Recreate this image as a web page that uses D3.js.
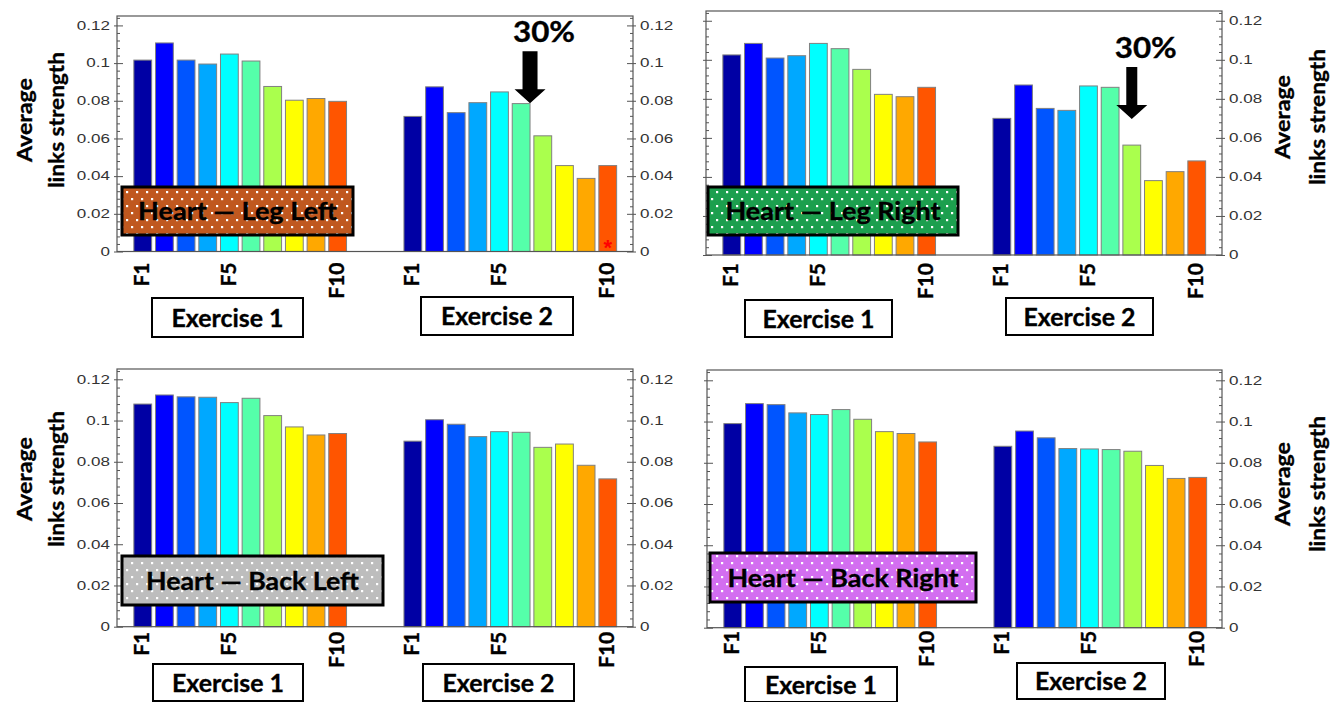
<!DOCTYPE html>
<html>
<head>
<meta charset="utf-8">
<script src="https://cdn.jsdelivr.net/npm/d3@7"></script>
<style>
  body { margin: 0; background: #fff; }
  svg { display: block; }
</style>
</head>
<body>
<svg id="chart" width="1338" height="702"></svg>
<script>
// values
const features = ['F1', 'F2', 'F3', 'F4', 'F5', 'F6', 'F7', 'F8', 'F9', 'F10'];
const shownFeatures = ['F1', 'F5', 'F10'];
const exercises = ['Exercise 1', 'Exercise 2'];
const barColors = ['#0000a4', '#0000ff', '#0055ff', '#00a8ff', '#00ffff',
                   '#55ffaa', '#aaff4d', '#ffff00', '#ffa800', '#ff5500'];
const yTicks = [0, 0.02, 0.04, 0.06, 0.08, 0.1, 0.12];
const yTickLabels = ['0', '0.02', '0.04', '0.06', '0.08', '0.1', '0.12'];

const legLeftEx1 = [0.1016, 0.1107, 0.1016, 0.0995, 0.1048, 0.1011, 0.0876, 0.0803, 0.0812, 0.0797];
const legLeftEx2 = [0.0717, 0.0874, 0.0737, 0.0790, 0.0847, 0.0785, 0.0614, 0.0456, 0.0388, 0.0456];
const legRightEx1 = [0.1025, 0.1084, 0.1009, 0.1021, 0.1084, 0.1057, 0.0951, 0.0823, 0.0811, 0.0859];
const legRightEx2 = [0.0700, 0.0871, 0.0751, 0.0741, 0.0866, 0.0859, 0.0563, 0.0381, 0.0427, 0.0482];
const backLeftEx1 = [0.1080, 0.1124, 0.1115, 0.1113, 0.1087, 0.1108, 0.1024, 0.0969, 0.0930, 0.0937];
const backLeftEx2 = [0.0900, 0.1004, 0.0982, 0.0922, 0.0946, 0.0943, 0.0870, 0.0886, 0.0783, 0.0717];
const backRightEx1 = [0.0990, 0.1087, 0.1082, 0.1042, 0.1034, 0.1058, 0.1011, 0.0951, 0.0942, 0.0901];
const backRightEx2 = [0.0880, 0.0954, 0.0921, 0.0869, 0.0867, 0.0864, 0.0856, 0.0787, 0.0724, 0.0729];

const titles = ['Heart \u2014 Leg Left', 'Heart \u2014 Leg Right', 'Heart \u2014 Back Left', 'Heart \u2014 Back Right'];
const titleFills = ['#c0581f', '#1c9f4e', '#bdbdbd', '#d36ef0'];
const yLabelLines = ['Average', 'links strength'];

// layout of the four panels (pixels)
const panels = [
  { ex1: legLeftEx1, ex2: legLeftEx2, left: 117, right: 633, top: 16, bottom: 251.5,
    leftLabels: true, yLabelX: [32, 64], yLabelY: 120, tickGap: 11,
    box: [122, 187, 231, 48], textLen: 199,
    exBoxes: [[152, 298, 151, 39], [421, 297, 152, 38]],
    arrow: { bar: 5, edge: 1, value: 0.0787, shaftW: 15 }, star: true },
  { ex1: legRightEx1, ex2: legRightEx2, left: 706, right: 1222, top: 11, bottom: 255,
    leftLabels: false, yLabelX: [1290, 1325], yLabelY: 117, tickGap: 8,
    box: [708, 187, 250, 48], textLen: 215,
    exBoxes: [[745, 300, 147, 37], [1006, 298, 147, 37]],
    arrow: { bar: 6, edge: 0.5, value: 0.0697, shaftW: 11 } },
  { ex1: backLeftEx1, ex2: backLeftEx2, left: 117, right: 633, top: 369, bottom: 626.7,
    leftLabels: true, yLabelX: [32, 64], yLabelY: 479, tickGap: 5,
    box: [122, 556, 261, 49], textLen: 213,
    exBoxes: [[153, 664, 150, 37], [423, 664, 151, 37]] },
  { ex1: backRightEx1, ex2: backRightEx2, left: 707, right: 1222, top: 370, bottom: 627.7,
    leftLabels: false, yLabelX: [1290, 1325], yLabelY: 484, tickGap: 3,
    box: [710, 553, 266, 49], textLen: 231,
    exBoxes: [[745, 667, 152, 35], [1017, 663, 148, 36]] }
];

const boldFont = 'Lato, "Open Sans", sans-serif';
const tickFont = '"Liberation Sans", Arial, sans-serif';

const svg = d3.select('#chart');
const defs = svg.append('defs');

titleFills.forEach((c, i) => {
  const p = defs.append('pattern')
    .attr('id', 'dots' + i)
    .attr('patternUnits', 'userSpaceOnUse')
    .attr('width', 10).attr('height', 14);
  p.append('rect').attr('width', 10).attr('height', 14).attr('fill', c);
  p.append('rect').attr('x', 1).attr('y', 2).attr('width', 2.2).attr('height', 2.2).attr('fill', '#fff');
  p.append('rect').attr('x', 6).attr('y', 9).attr('width', 2.2).attr('height', 2.2).attr('fill', '#fff');
});

const minorTicks = d3.range(0, 0.1245, 0.004).filter(v => Math.abs(v / 0.02 - Math.round(v / 0.02)) > 0.01);

function styleTickText(sel, dx) {
  sel.selectAll('text')
    .attr('x', dx)
    .attr('transform', 'scale(1.42,1)')
    .attr('font-family', tickFont)
    .attr('font-size', 12)
    .attr('fill', '#333');
}

// heavier look, closer to the original's bold face
function boldText(sel, size) {
  return sel
    .attr('font-family', boldFont)
    .attr('font-weight', 'bold')
    .attr('font-size', size)
    .attr('fill', '#000')
    .attr('stroke', '#000')
    .attr('stroke-width', 0.35);
}

panels.forEach((p, pi) => {
  const g = svg.append('g');
  const y = d3.scaleLinear().domain([0, 0.125]).range([p.bottom, p.top]);
  const outer = d3.scaleBand().domain(exercises)
    .range([p.left + 13, p.left + 503.5])
    .paddingInner(0.184).paddingOuter(0);
  const inner = d3.scaleBand().domain(features)
    .range([0, outer.bandwidth()])
    .padding(0.178);

  // bars
  [p.ex1, p.ex2].forEach((vals, ei) => {
    const gg = g.append('g').attr('transform', `translate(${outer(exercises[ei])},0)`);
    gg.selectAll('rect')
      .data(vals)
      .join('rect')
      .attr('x', (d, i) => inner(features[i]))
      .attr('y', d => y(d))
      .attr('width', inner.bandwidth())
      .attr('height', d => y(0) - y(d))
      .attr('fill', (d, i) => barColors[i])
      .attr('stroke', '#808080')
      .attr('stroke-width', 1);

    // x tick labels
    const xa = gg.append('g')
      .attr('transform', `translate(0,${y(0) + p.tickGap})`)
      .call(d3.axisBottom(inner).tickValues(shownFeatures).tickSize(0).tickPadding(0));
    xa.select('.domain').remove();
    boldText(xa.selectAll('text')
      .attr('transform', 'rotate(-90)')
      .attr('x', 0).attr('y', 0).attr('dy', '0.3em')
      .attr('text-anchor', 'end'), 21);
  });

  // frame
  g.append('rect')
    .attr('x', p.left).attr('y', p.top)
    .attr('width', p.right - p.left).attr('height', y(0) - p.top)
    .attr('fill', 'none').attr('stroke', '#555').attr('stroke-width', 1.2);

  // left axis
  const la = g.append('g').attr('transform', `translate(${p.left},0)`)
    .call(d3.axisLeft(y).tickValues(yTicks).tickSize(3)
      .tickFormat((d, i) => p.leftLabels ? yTickLabels[i] : ''));
  la.select('.domain').remove();
  la.selectAll('line').attr('x1', -3).attr('x2', 6).attr('stroke', '#555');
  styleTickText(la, -5);
  const lm = g.append('g').attr('transform', `translate(${p.left},0)`)
    .call(d3.axisLeft(y).tickValues(minorTicks).tickSize(-3).tickFormat(''));
  lm.select('.domain').remove();
  lm.selectAll('line').attr('stroke', '#555');

  // right axis
  const ra = g.append('g').attr('transform', `translate(${p.right},0)`)
    .call(d3.axisRight(y).tickValues(yTicks).tickSize(3)
      .tickFormat((d, i) => yTickLabels[i]));
  ra.select('.domain').remove();
  ra.selectAll('line').attr('x1', -6).attr('x2', 3).attr('stroke', '#555');
  styleTickText(ra, 5);
  const rm = g.append('g').attr('transform', `translate(${p.right},0)`)
    .call(d3.axisRight(y).tickValues(minorTicks).tickSize(-3).tickFormat(''));
  rm.select('.domain').remove();
  rm.selectAll('line').attr('stroke', '#555');

  // y axis title
  yLabelLines.forEach((t, i) => {
    boldText(g.append('text'), 21)
      .attr('transform', `translate(${p.yLabelX[i]},${p.yLabelY}) rotate(-90)`)
      .attr('text-anchor', 'middle')
      .attr('textLength', i === 0 ? 84 : 136)
      .attr('lengthAdjust', 'spacingAndGlyphs')
      .text(t);
  });

  // title box with dotted fill
  const [bx, by, bw, bh] = p.box;
  g.append('rect')
    .attr('x', bx).attr('y', by).attr('width', bw).attr('height', bh)
    .attr('fill', `url(#dots${pi})`)
    .attr('stroke', '#000').attr('stroke-width', 3);
  boldText(g.append('text'), 25)
    .attr('x', bx + bw / 2).attr('y', by + bh / 2 + 9)
    .attr('text-anchor', 'middle')
    .attr('textLength', p.textLen)
    .attr('lengthAdjust', 'spacingAndGlyphs')
    .text(titles[pi]);

  // exercise boxes
  p.exBoxes.forEach(([ex, ey, ew, eh], i) => {
    g.append('rect')
      .attr('x', ex).attr('y', ey).attr('width', ew).attr('height', eh)
      .attr('fill', '#fff').attr('stroke', '#000').attr('stroke-width', 2);
    boldText(g.append('text'), 25)
      .attr('x', ex + ew / 2).attr('y', ey + eh / 2 + 9)
      .attr('text-anchor', 'middle')
      .attr('textLength', 112)
      .attr('lengthAdjust', 'spacingAndGlyphs')
      .text(exercises[i]);
  });

  // 30% arrow
  if (p.arrow) {
    const a = p.arrow;
    const tx = outer('Exercise 2') + inner(features[a.bar]) + inner.bandwidth() * a.edge;
    const ty = y(a.value);
    const hw = 15.5, hh = 14, sl = 38, sw = a.shaftW / 2;
    const pts = [[tx, ty], [tx - hw, ty - hh], [tx - sw, ty - hh], [tx - sw, ty - hh - sl],
                 [tx + sw, ty - hh - sl], [tx + sw, ty - hh], [tx + hw, ty - hh]];
    g.append('polygon').attr('points', pts.map(d => d.join(',')).join(' ')).attr('fill', '#000');
    boldText(g.append('text'), 29)
      .attr('x', tx + 14).attr('y', ty - hh - sl - 9)
      .attr('text-anchor', 'middle')
      .attr('textLength', 62)
      .attr('lengthAdjust', 'spacingAndGlyphs')
      .text('30%');
  }

  // significance mark
  if (p.star) {
    g.append('text')
      .attr('x', outer('Exercise 2') + inner('F10') + inner.bandwidth() / 2)
      .attr('y', y(0) + 3)
      .attr('text-anchor', 'middle')
      .attr('font-family', tickFont)
      .attr('font-weight', 'bold')
      .attr('font-size', 22)
      .attr('fill', '#ff0000')
      .text('*');
  }
});
</script>
</body>
</html>
